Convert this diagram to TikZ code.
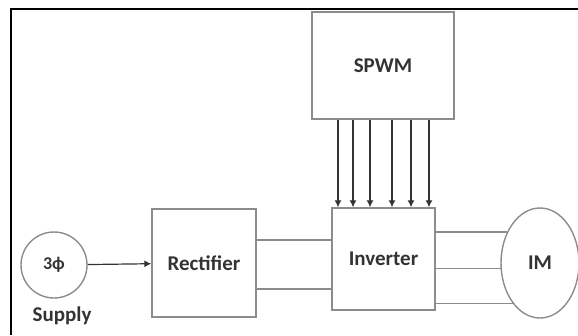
\documentclass[tikz,border=0pt]{standalone}
\usepackage{fontspec}
\setmainfont{Carlito}
\usetikzlibrary{arrows.meta,positioning,shapes.geometric}
\tikzset{
  block/.style={
    rectangle,
    draw=black!45,
    line width=1.4pt,
    align=center,
    inner sep=0pt,
    text=black!80,
    font=\fontsize{21}{23}\selectfont\bfseries
  },
  source/.style={
    block,
    circle,
    minimum size=66pt,
    font=\fontsize{18}{20}\selectfont\bfseries
  },
  motor/.style={
    block,
    ellipse,
    minimum width=78pt,
    minimum height=110pt
  },
  label/.style={
    inner sep=0pt,
    text=black!80,
    font=\fontsize{21}{23}\selectfont\bfseries
  },
  wire/.style={
    line width=1.5pt,
    draw=black!45
  },
  arrow/.style={
    -{Latex[length=7pt,width=7pt]},
    line width=1.2pt,
    draw=black!80
  }
}

\begin{document}
\begin{tikzpicture}[x=1pt,y=-1pt]
  \useasboundingbox (0,0) rectangle (578,335);
  % frame
  \draw[line width=2pt] (11,335) -- (11,9) -- (578,9);

  \node[source] (supply) at (54,265) {3ϕ};
  \node[label] (supplytxt) at (62,316) {Supply};
  \node[block, minimum width=104pt, minimum height=108pt] (rect) at (204,263) {Rectifier};
  \node[block, minimum width=103pt, minimum height=102pt] (inv) at (383.5,259) {Inverter};
  \node[block, minimum width=142pt, minimum height=107pt] (spwm) at (383,65.5) {SPWM};
  \node[motor] (im) at (540,263) {IM};

  \draw[arrow] (supply) -- (rect);
  \draw[wire] (rect.east |- 0,240) -- (inv.west |- 0,240);
  \draw[wire] (rect.east |- 0,289) -- (inv.west |- 0,289);

  \foreach \x in {338,353,370,392,411,429}
    \draw[arrow] (\x,0 |- spwm.south) -- (\x,0 |- inv.north);

  \foreach \a in {137.5,188.8,236.2}
    \draw[wire] (inv.east |- im.\a) -- (im.\a);
\end{tikzpicture}
\end{document}
